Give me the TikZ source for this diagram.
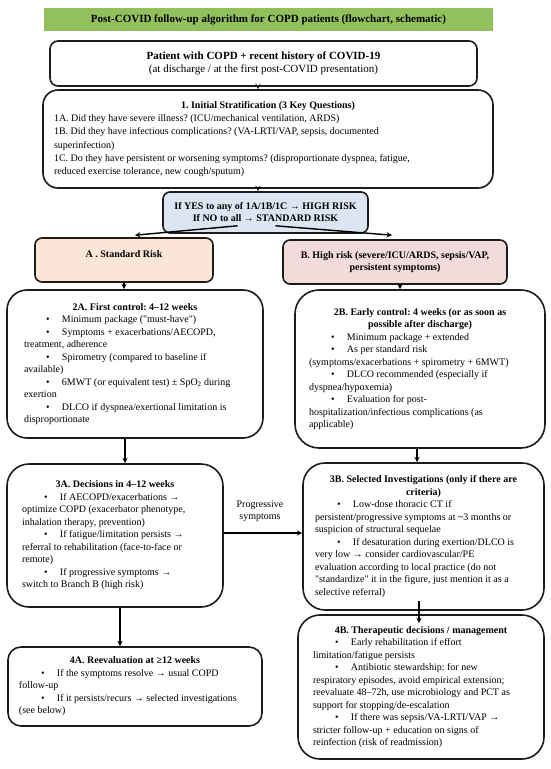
\documentclass[tikz,border=0pt]{standalone}
\usepackage{fontspec}
\setmainfont{Liberation Serif}
\usepackage{tikz}
\usetikzlibrary{calc}
\definecolor{titlegreen}{HTML}{92C05A}
\definecolor{decideblue}{HTML}{DCE5F2}
\definecolor{riskpeach}{HTML}{FBE5D6}
\definecolor{riskpink}{HTML}{F2DCDB}
\definecolor{boxline}{HTML}{1C1C1C}
\setlength{\parindent}{0pt}
\frenchspacing
\newcommand{\itm}{\makebox[38pt][l]{\hspace{22pt}\textbullet}}
\newcommand{\qt}{\textquotedbl}

\begin{document}
\begin{tikzpicture}[x=1pt, y=-1pt,
	box/.style = {draw=boxline, line width=1.6pt, font=\fontsize{10}{12.5}\selectfont},
	textbox/.style = {box, align=flush left, inner ysep=2pt},
	headbox/.style = {box, align=center, font=\fontsize{10}{12}\selectfont\bfseries},
	link/.style = {-stealth, line width=1.4pt}]

	\useasboundingbox (0,0) rectangle (550,769);

	\node (title) [fill=titlegreen, minimum width=449pt, minimum height=23pt, font=\fontsize{11}{13}\selectfont\bfseries]
		at (268.5,19.5) {Post-COVID follow-up algorithm for COPD patients (flowchart, schematic)};

	\node (start) [box, align=center, rounded corners=8pt, minimum width=427pt, minimum height=45pt,
		font=\fontsize{11}{13}\selectfont] at (263.5,63.5)
		{\textbf{Patient with COPD + recent history of COVID-19}\\ (at discharge / at the first post-COVID presentation)};

	\node (strat) [textbox, rounded corners=15pt, text width=428pt, inner xsep=11pt, minimum height=98pt,
		font=\fontsize{10}{13.3}\selectfont] at (268,139) {%
		{\centering\bfseries 1. Initial Stratification (3 Key Questions)\par}
		1A. Did they have severe illness? (ICU/mechanical ventilation, ARDS)\\
		1B. Did they have infectious complications? (VA-LRTI/VAP, sepsis, documented\\ superinfection)\\
		1C. Do they have persistent or worsening symptoms? (disproportionate dyspnea, fatigue,\\ reduced exercise tolerance, new cough/sputum)};

	\node (decide) [headbox, fill=decideblue, rounded corners=7pt, minimum width=205pt, minimum height=41pt] at (265.5,212.5)
		{If YES to any of 1A/1B/1C → HIGH RISK\\ If NO to all → STANDARD RISK};

	\node (riskA) [headbox, fill=riskpeach, rounded corners=7pt, minimum width=178pt, minimum height=44pt] at (124,260)
		{A . Standard Risk\\ \mbox{}};
	\node (riskB) [headbox, fill=riskpink, rounded corners=7pt, minimum width=224pt, minimum height=44pt] at (395,262)
		{B. High risk (severe/ICU/ARDS, sepsis/VAP,\\ persistent symptoms)};

	% branch A
	\node (ctrlA) [textbox, rounded corners=20pt, text width=222pt, inner xsep=17pt, minimum height=148pt] at (135,364) {%
		{\centering\bfseries 2A. First control: 4–12 weeks\par}
		\itm Minimum package (\qt must-have\qt)\\
		\itm Symptoms + exacerbations/AECOPD,\\ treatment, adherence\\
		\itm Spirometry (compared to baseline if\\ available)\\
		\itm 6MWT (or equivalent test) ± SpO\textsubscript{2} during\\ exertion\\
		\itm DLCO if dyspnea/exertional limitation is\\ disproportionate};

	\node (decA) [textbox, rounded corners=22pt, text width=186pt, inner xsep=15pt, minimum height=143pt] at (115,535.5) {%
		{\centering\bfseries 3A. Decisions in 4–12 weeks\par}
		\itm If AECOPD/exacerbations →\\ optimize COPD (exacerbator phenotype,\\ inhalation therapy, prevention)\\
		\itm If fatigue/limitation persists →\\ referral to rehabilitation (face-to-face or\\ remote)\\
		\itm If progressive symptoms →\\ switch to Branch B (high risk)};

	\node (reA) [textbox, rounded corners=13pt, text width=232pt, inner xsep=11pt, minimum height=79pt] at (135,686.5) {%
		{\centering\bfseries 4A. Reevaluation at ≥12 weeks\par}
		\itm If the symptoms resolve → usual COPD\\ follow-up\\
		\itm If it persists/recurs → selected investigations\\ (see below)};

	% branch B
	\node (ctrlB) [textbox, rounded corners=24pt, text width=222pt, inner xsep=14pt, minimum height=158pt] at (420,369) {%
		{\centering\bfseries 2B. Early control: 4 weeks (or as soon as\\ possible after discharge)\par}
		\itm Minimum package + extended\\
		\itm As per standard risk\\ (symptoms/exacerbations + spirometry + 6MWT)\\
		\itm DLCO recommended (especially if\\ dyspnea/hypoxemia)\\
		\itm Evaluation for post-\\ hospitalization/infectious complications (as\\ applicable)};

	\node (selB) [textbox, rounded corners=22pt, text width=217pt, inner xsep=12pt, minimum height=147pt] at (423.5,536.5) {%
		{\centering\bfseries 3B. Selected Investigations (only if there are\\ criteria)\par}
		\itm Low-dose thoracic CT if\\ persistent/progressive symptoms at \textasciitilde3 months or\\ suspicion of structural sequelae\\
		\itm If desaturation during exertion/DLCO is\\ very low → consider cardiovascular/PE\\ evaluation according to local practice (do not\\ \qt standardize\qt{} it in the figure, just mention it as a\\ selective referral)};

	\node (manB) [textbox, rounded corners=22pt, text width=216pt, inner xsep=15pt, minimum height=144pt] at (421,687) {%
		{\centering\bfseries 4B. Therapeutic decisions / management\par}
		\itm Early rehabilitation if effort\\ limitation/fatigue persists\\
		\itm Antibiotic stewardship: for new\\ respiratory episodes, avoid empirical extension;\\ reevaluate 48–72h, use microbiology and PCT as\\ support for stopping/de-escalation\\
		\itm If there was sepsis/VA-LRTI/VAP →\\ stricter follow-up + education on signs of\\ reinfection (risk of readmission)};

	\node (progress) [align=center, font=\fontsize{10}{12}\selectfont] at (260,511) {Progressive\\ symptoms};

	\draw [link] ([xshift=-5.5pt]start.south) -- ([xshift=-5.5pt]start.south |- strat.north);
	\draw [link] ([xshift=-10pt]strat.south) -- ([xshift=-10pt]strat.south |- decide.north);
	\draw [link] ([xshift=-28pt, yshift=8pt]decide.south) -- ([xshift=11pt, yshift=2pt]riskA.north);
	\draw [link] ([xshift=10pt, yshift=8pt]decide.south) -- ([xshift=-3pt, yshift=4pt]riskB.north);

	\draw [link] (riskA.south) -- (riskA.south |- ctrlA.north);
	\draw [link] ([xshift=-10pt]ctrlA.south) -- ([xshift=-10pt]ctrlA.south |- decA.north);
	\draw [link] ([xshift=5pt]decA.south) -- ([xshift=5pt]decA.south |- reA.north);

	\draw [link] ([xshift=5pt]riskB.south) -- ([xshift=5pt]riskB.south |- ctrlB.north);
	\draw [link] ([xshift=-3pt]ctrlB.south) -- ([xshift=-3pt]ctrlB.south |- selB.north);
	\draw [link] ([xshift=-4.5pt, yshift=10pt]selB.south) -- ([xshift=-4.5pt, yshift=-9pt]selB.south |- manB.north);

	\draw [link] ([yshift=2.5pt]decA.east) -- ([yshift=2.5pt]decA.east -| selB.west);
\end{tikzpicture}
\end{document}
